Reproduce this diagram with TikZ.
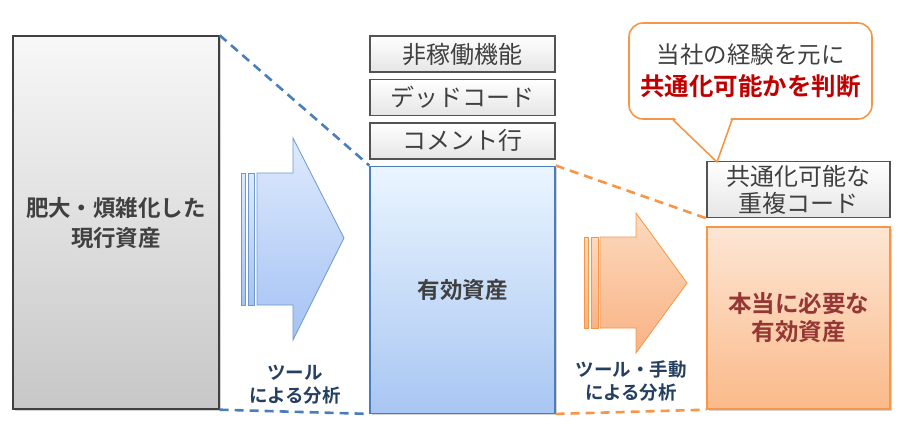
\documentclass[tikz,border=0pt]{standalone}
\usepackage{fontspec}
\setmainfont{Noto Sans CJK JP}[BoldFont={Noto Sans CJK JP Bold}]
\usepackage{xcolor}
\usepackage{tikz}
\usetikzlibrary{positioning, shadows, calc}
\definecolor{dashblue}{HTML}{4A7EBB}
\definecolor{dashorange}{HTML}{F79646}
\definecolor{labelnavy}{HTML}{243F60}
\definecolor{darkred}{HTML}{953735}
\definecolor{judgered}{HTML}{C00000}
\definecolor{textgray}{HTML}{404040}
\definecolor{icetop}{HTML}{EAF5FF}
\definecolor{icebottom}{HTML}{A8C6F2}
\tikzstyle{asset} = [rectangle, line width=1.4pt, text centered, align=center, text=textgray, font=\fontsize{22.5}{30}\selectfont\bfseries, drop shadow={opacity=0.35, shadow xshift=2pt, shadow yshift=-2pt}]
\tikzstyle{waste} = [rectangle, draw=textgray!90, line width=1.4pt, top color=white, bottom color=black!10, minimum width=185pt, minimum height=36pt, text centered, align=center, text=textgray, font=\fontsize{24}{27}\selectfont]
\tikzstyle{dashed blue} = [dashblue, line width=2.6pt, dash pattern=on 9pt off 6pt]
\tikzstyle{dashed orange} = [dashorange, line width=2.6pt, dash pattern=on 9pt off 6pt]
\tikzstyle{stepnote} = [align=center, font=\fontsize{18.5}{23}\selectfont\bfseries, text=labelnavy]

\begin{document}
\begin{tikzpicture}[x=1pt, y=-1pt]
	\useasboundingbox (0,0) rectangle (900,440);

	% 左: 現行資産
	\node (cur) [asset, draw=textgray, top color=black!3, bottom color=black!22, minimum width=206pt, minimum height=373pt] at (116,222.5) {肥大・煩雑化した\\現行資産};

	% 中央: 除外されるもの + 有効資産
	\node (nonop) [waste] at (462.5,54) {非稼働機能};
	\node (dead) [waste, below=6pt of nonop] {デッドコード};
	\node (comment) [waste, below=6pt of dead] {コメント行};
	\node (eff) [asset, draw=dashblue, top color=icetop, bottom color=icebottom, minimum width=185pt, minimum height=247pt, below=6pt of comment] {有効資産};

	% 右: 本当に必要な有効資産
	\node (need) [asset, draw=dashorange, text=darkred, font=\fontsize{23.5}{28}\selectfont\bfseries, top color={rgb,255:red,253;green,230;blue,212}, bottom color={rgb,255:red,250;green,186;blue,138}, minimum width=183pt, minimum height=182pt] at (798.5,318) {本当に必要な\\有効資産};
	\node (dup) [waste, minimum width=183pt, minimum height=56pt, above=8pt of need] {共通化可能な\\重複コード};

	% 吹き出し
	\node (judge) [rectangle, rounded corners=14pt, draw=dashorange, line width=1.6pt, fill=white, minimum width=243pt, minimum height=96pt, align=center, font=\fontsize{23.5}{32}\selectfont, text=textgray] at (750.5,71) {当社の経験を元に\\{\fontsize{24.5}{32}\selectfont\bfseries\color{judgered}共通化可能かを判断}};
	\coordinate (tip) at (717,162);
	\fill[white] ($(judge.south)+(-76,-2)$) -- (tip) -- ($(judge.south)+(-19.5,-2)$) -- cycle;
	\draw[dashorange, line width=1.6pt, line join=round] ($(judge.south)+(-77.5,0)$) -- (tip) -- ($(judge.south)+(-18.5,0)$);

	% 破線
	\draw[dashed blue] (cur.north east) -- (eff.north west);
	\draw[dashed blue] (cur.south east) -- (eff.south west);
	\draw[dashed orange] (eff.north east) -- (dup.south west);
	\draw[dashed orange] (eff.south east) -- (need.south west);

	% 矢印 (ツール)
	\draw[dashblue!80, line width=0.8pt, top color={rgb,255:red,222;green,234;blue,252}, bottom color={rgb,255:red,164;green,194;blue,244}] (257,173) -- (293,173) -- (293,138) -- (344,238) -- (293,340) -- (293,305) -- (257,305) -- cycle;
	\draw[dashblue!80, line width=0.8pt, top color={rgb,255:red,222;green,234;blue,252}, bottom color={rgb,255:red,164;green,194;blue,244}] (241,173) rectangle (245,305);
	\draw[dashblue!80, line width=0.8pt, top color={rgb,255:red,222;green,234;blue,252}, bottom color={rgb,255:red,164;green,194;blue,244}] (248,173) rectangle (254,305);
	\node (toolnote) [stepnote] at (295,385) {ツール\\による分析};

	% 矢印 (ツール・手動)
	\draw[dashorange, line width=0.8pt, top color={rgb,255:red,252;green,218;blue,190}, bottom color={rgb,255:red,249;green,178;blue,132}] (600,237) -- (636,237) -- (636,213) -- (687,283) -- (636,353) -- (636,328) -- (600,328) -- cycle;
	\draw[dashorange, line width=0.8pt, top color={rgb,255:red,252;green,218;blue,190}, bottom color={rgb,255:red,249;green,178;blue,132}] (584,237) rectangle (588,328);
	\draw[dashorange, line width=0.8pt, top color={rgb,255:red,252;green,218;blue,190}, bottom color={rgb,255:red,249;green,178;blue,132}] (591,237) rectangle (598,328);
	\node (mannote) [stepnote] at (631,381) {ツール・手動\\による分析};
\end{tikzpicture}
\end{document}
